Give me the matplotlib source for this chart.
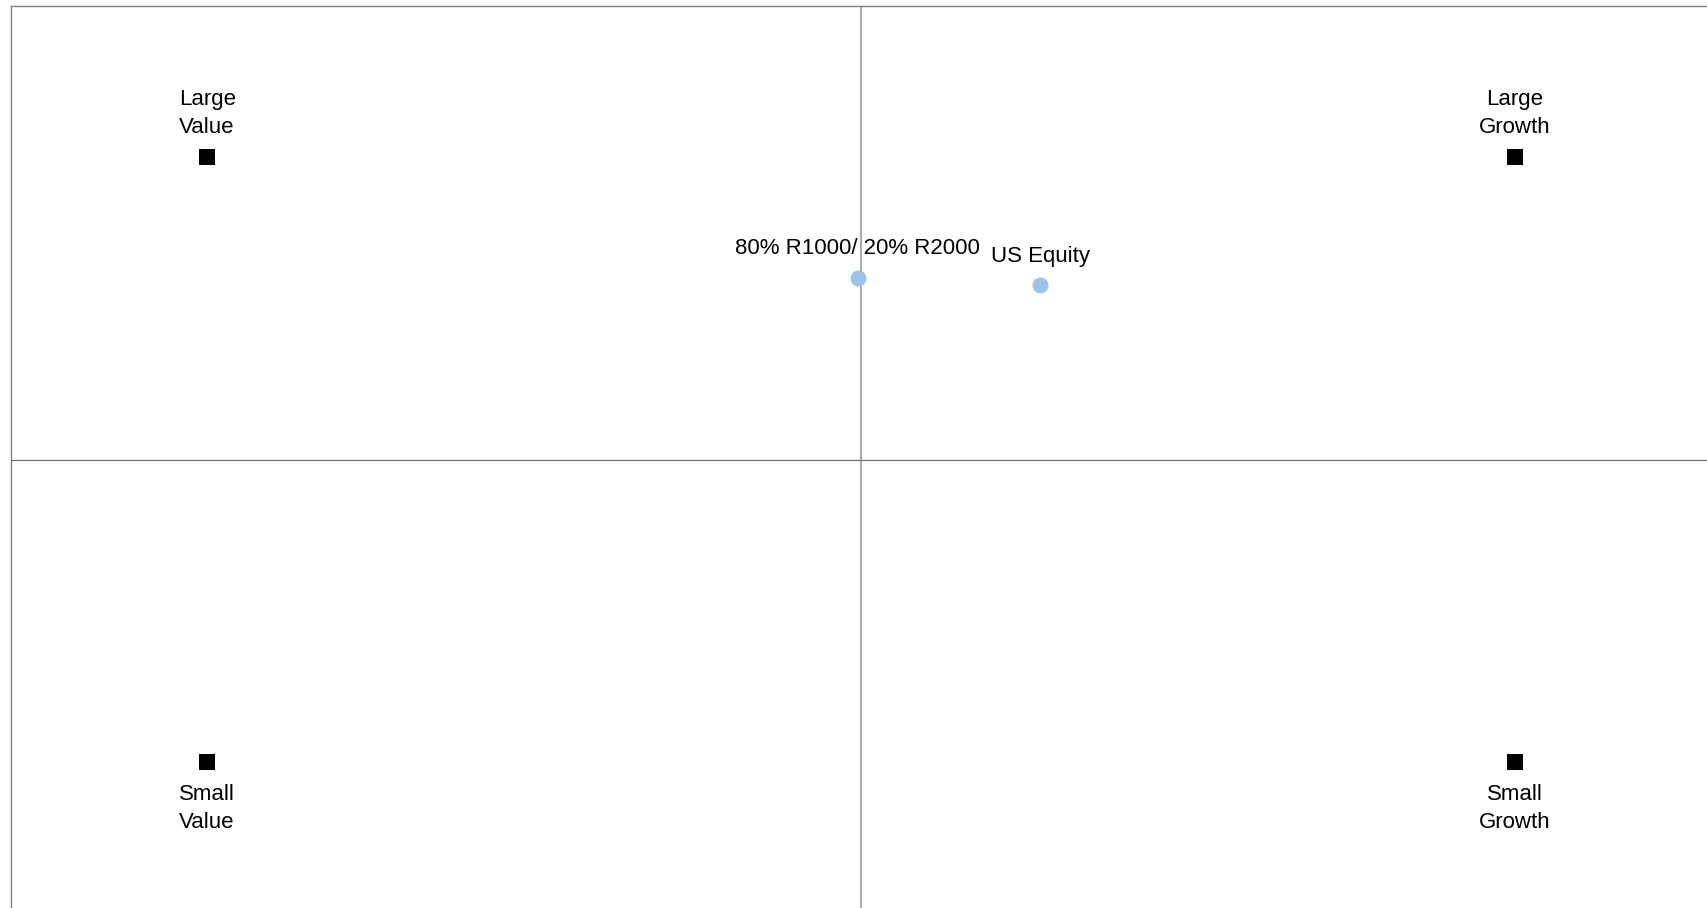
import matplotlib
matplotlib.use("Agg")
import matplotlib.pyplot as plt
from matplotlib import font_manager

# ---- data ----
style_labels = ["Large\nValue", "Large\nGrowth", "Small\nValue", "Small\nGrowth"]
style_x = [-1.0, 1.0, -1.0, 1.0]
style_y = [1.0, 1.0, -1.0, -1.0]

port_labels = ["80% R1000/ 20% R2000", "US Equity"]
port_x = [-0.005, 0.274]
port_y = [0.600, 0.576]

# ---- font ----
names = {f.name for f in font_manager.fontManager.ttflist}
if "Liberation Sans Narrow" in names:
    fam, fs = "Liberation Sans Narrow", 18
else:
    fam, fs = "Liberation Sans", 16
plt.rcParams["font.family"] = [fam, "DejaVu Sans"]

W, H = 1707, 908
fig = plt.figure(figsize=(W / 100, H / 100), dpi=100)
left_px, right_px, top_px, bottom_px = 11, 1711, 6, 913
ax = fig.add_axes([left_px / W, (H - bottom_px) / H,
                   (right_px - left_px) / W, (bottom_px - top_px) / H])
ax.set_xlim(-1.3, 1.3)
ax.set_ylim(-1.5, 1.5)
ax.set_xticks([])
ax.set_yticks([])
for s in ax.spines.values():
    s.set_color("#808080")
    s.set_linewidth(1.0)

ax.axhline(0, color="#707070", lw=0.9, zorder=1)
ax.axvline(0, color="#909090", lw=1.1, zorder=1)

ax.scatter(style_x, style_y, marker="s", s=11.5 ** 2, color="black", zorder=3, linewidths=0)
ax.scatter(port_x, port_y, marker="o", s=11.5 ** 2, color="#9DC3E6", zorder=3, linewidths=0)

for lab, x, y in zip(style_labels, style_x, style_y):
    if y > 0:
        ax.annotate(lab, (x, y), xytext=(0, 13.7), textcoords="offset points",
                    ha="center", va="bottom", multialignment="center",
                    fontsize=fs, linespacing=1.45, color="black")
    else:
        ax.annotate(lab, (x, y), xytext=(0, -47.5), textcoords="offset points",
                    ha="center", va="baseline", multialignment="center",
                    fontsize=fs, linespacing=1.45, color="black")

for lab, x, y in zip(port_labels, port_x, port_y):
    ax.annotate(lab, (x, y), xytext=(0, 17), textcoords="offset points",
                ha="center", va="baseline", fontsize=fs, color="black")

fig.savefig("out.png", dpi=100)
